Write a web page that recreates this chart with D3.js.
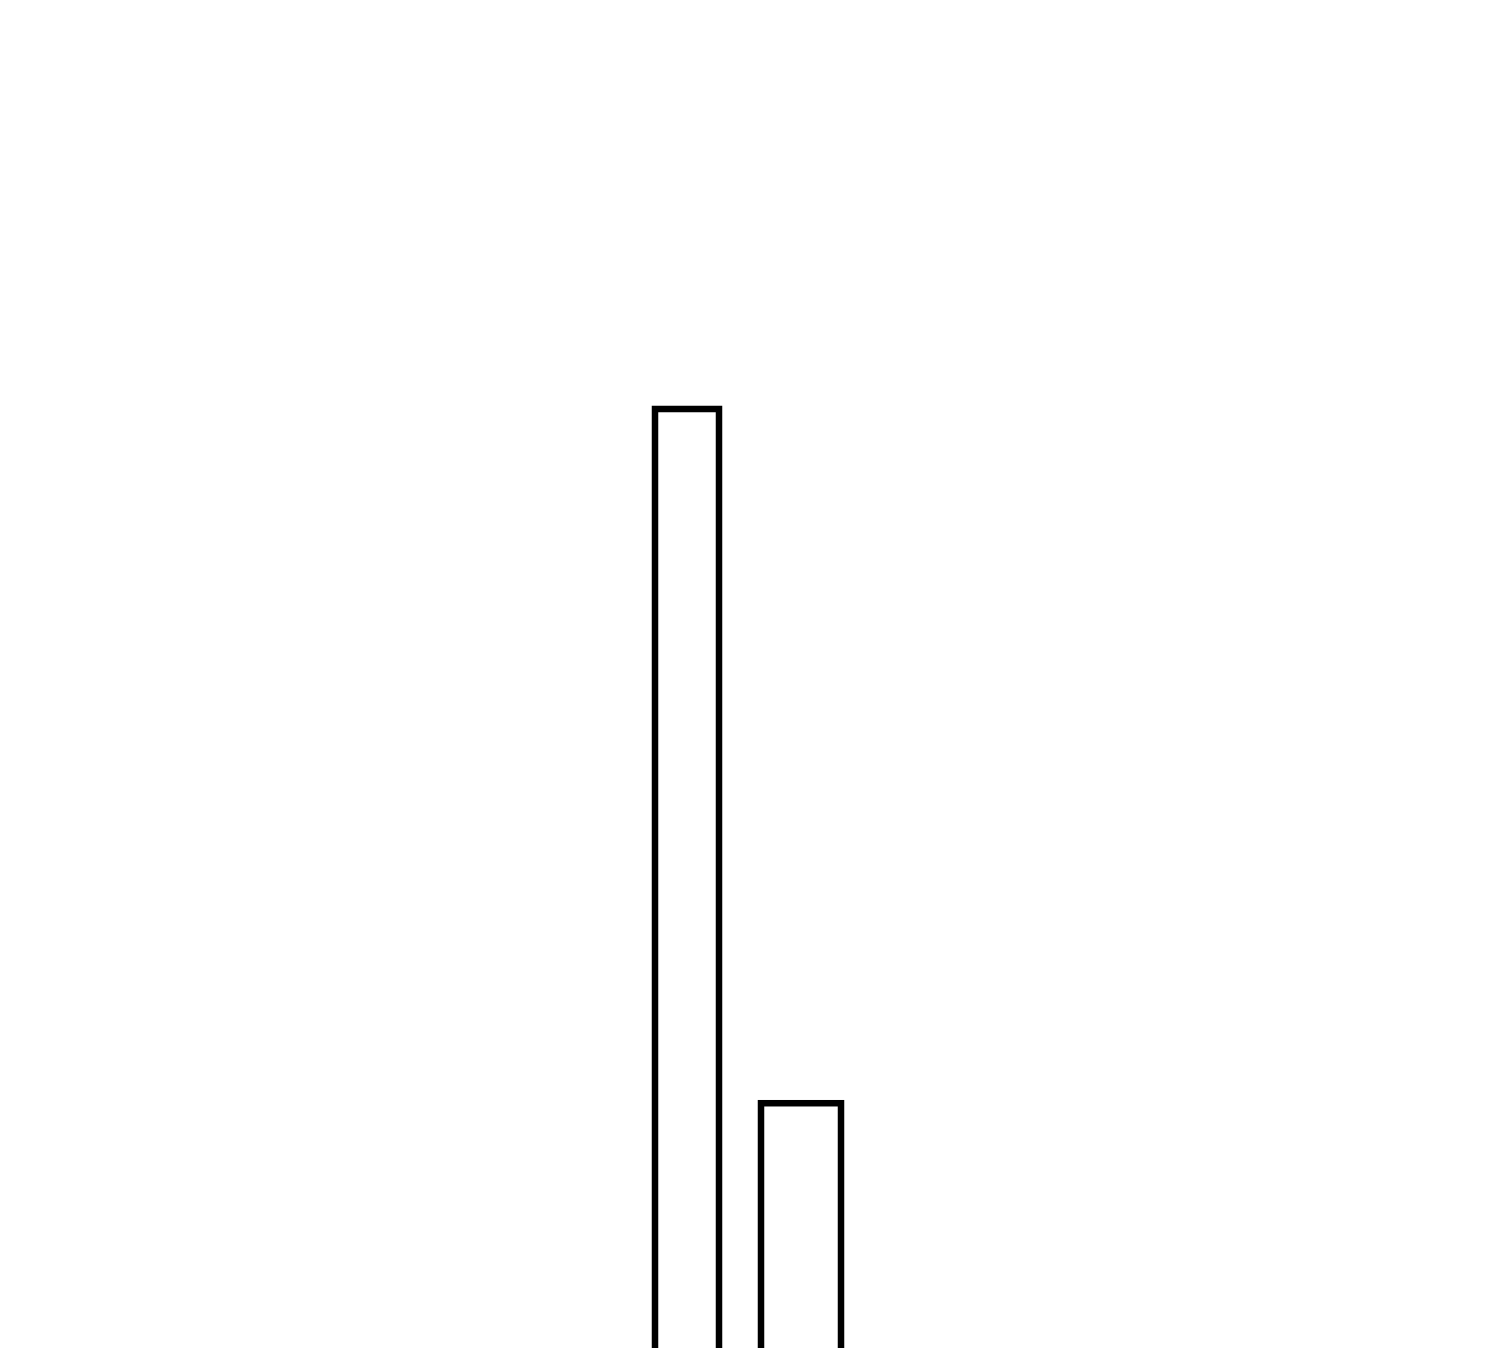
<!DOCTYPE html>
<html>
<head>
<meta charset="utf-8">
<script src="https://cdn.jsdelivr.net/npm/d3@7"></script>
<style>
  html, body { margin: 0; padding: 0; background: #fff; overflow: hidden; }
  svg { display: block; }
</style>
</head>
<body>
<script>
// Data
const categories = ["A", "B"];
const binStart = [0, 13.25];
const binEnd = [8, 23.25];
const values = [100, 27];

const W = 1500, H = 1348;
const svg = d3.select("body").append("svg")
  .attr("width", W).attr("height", H);

const x = d3.scaleLinear().domain([0, 23.25]).range([655, 841]);
const y = d3.scaleLinear().domain([0, 100]).range([1360, 409]);

const data = categories.map((c, i) => ({ c, x0: binStart[i], x1: binEnd[i], v: values[i] }));

svg.selectAll("rect.bar")
  .data(data)
  .join("rect")
  .attr("class", "bar")
  .attr("x", d => x(d.x0))
  .attr("width", d => x(d.x1) - x(d.x0))
  .attr("y", d => y(d.v))
  .attr("height", d => y(0) - y(d.v))
  .attr("fill", "none")
  .attr("stroke", "#000")
  .attr("stroke-width", 6.5);
</script>
</body>
</html>
